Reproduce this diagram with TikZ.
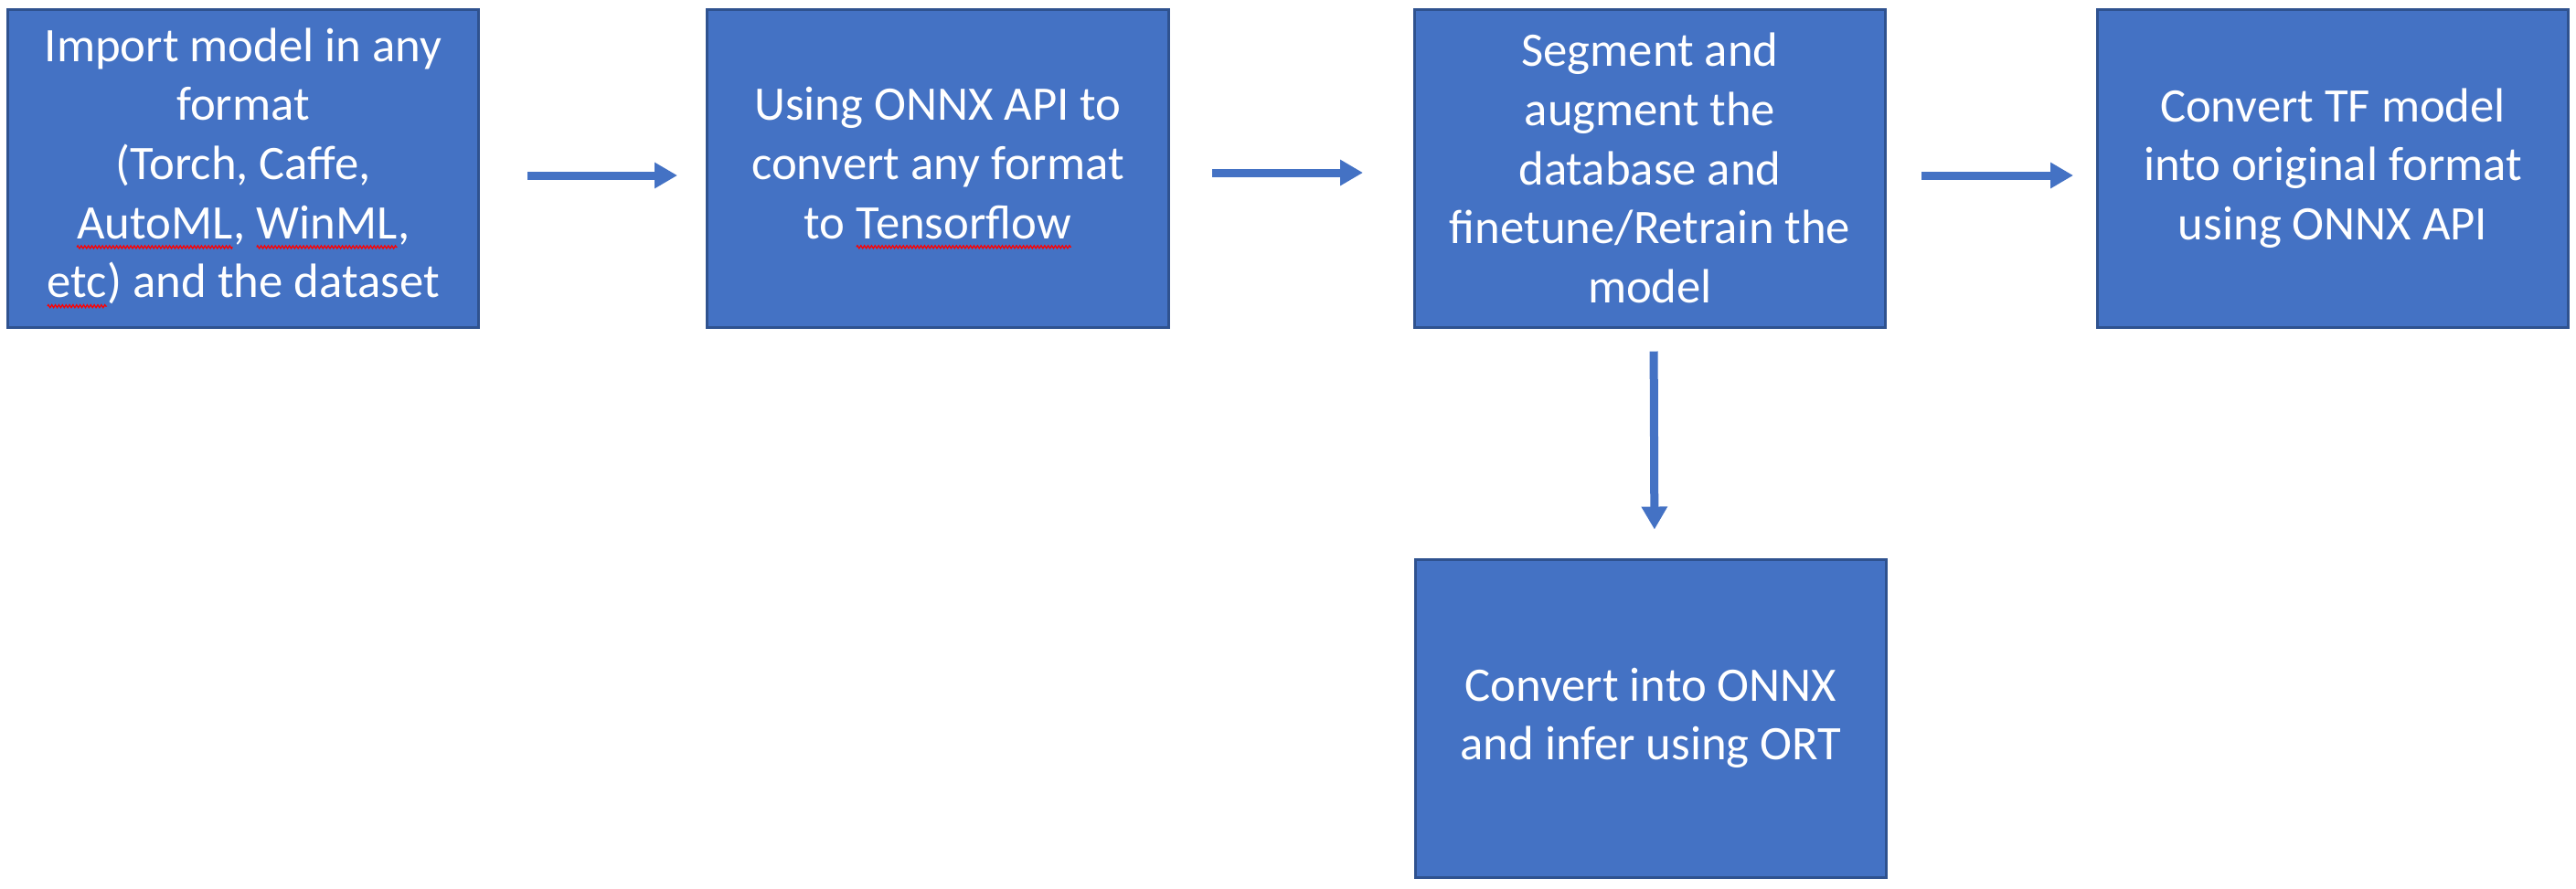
\documentclass[tikz,border=0pt]{standalone}
\usepackage{fontspec}
\setmainfont{Carlito}
\usepackage{xcolor}
\usetikzlibrary{arrows.meta,decorations.pathmorphing}
\definecolor{boxfill}{HTML}{4472C4}
\definecolor{boxline}{HTML}{2F528F}
\newcommand{\spellmark}[1]{\tikz[baseline=(w.base)]{\node[inner sep=0pt, outer sep=0pt, minimum width=0pt, minimum height=0pt, draw=none, fill=none] (w) {#1};
    \draw[red, line width=0.35pt, decorate, decoration={zigzag, amplitude=0.45pt, segment length=1.1pt}]
      ([yshift=-2.6pt]w.base west) -- ([yshift=-2.6pt]w.base east);}}

\begin{document}
\begin{tikzpicture}[
    stepbox/.style={draw=boxline, line width=0.03cm, fill=boxfill, text=white,
      minimum width=5.15cm, minimum height=3.48cm, align=center, inner sep=2pt,
      font=\fontsize{15}{18.4}\selectfont},
    flow/.style={draw=boxfill, line width=0.09cm,
      -{Triangle[width=0.27cm,length=0.25cm]}}
  ]
      \useasboundingbox (0,0) rectangle (28.18,-9.72);
      \node[stepbox] (import) at (2.66,-1.84) {Import model in any\\format\\(Torch, Caffe,\\\spellmark{AutoML}, \spellmark{WinML},\\\spellmark{etc}) and the dataset};
      \node[stepbox, minimum width=5.05cm] (convert) at (10.26,-1.84) {Using ONNX API to\\convert any format\\to \spellmark{Tensorflow}};
      \node[stepbox] (retrain) at (18.05,-1.84) {Segment and\\augment the\\database and\\finetune/Retrain the\\model};
      \node[stepbox] (back) at (25.52,-1.84) {Convert TF model\\into original format\\using ONNX API};
      \node[stepbox] (infer) at (18.06,-7.86) {Convert into ONNX\\and infer using ORT};
      \draw[flow, shorten <=0.52cm, shorten >=0.31cm] ([yshift=-0.08cm]import.east) -- ([yshift=-0.08cm]convert.west);
      \draw[flow, shorten <=0.46cm, shorten >=0.55cm] ([yshift=-0.05cm]convert.east) -- ([yshift=-0.05cm]retrain.west);
      \draw[flow, shorten <=0.38cm, shorten >=0.25cm] ([yshift=-0.08cm]retrain.east) -- ([yshift=-0.08cm]back.west);
      \draw[flow, shorten <=0.25cm, shorten >=0.31cm] ([xshift=0.04cm]retrain.south) -- ([xshift=0.04cm]infer.north);
\end{tikzpicture}
\end{document}
